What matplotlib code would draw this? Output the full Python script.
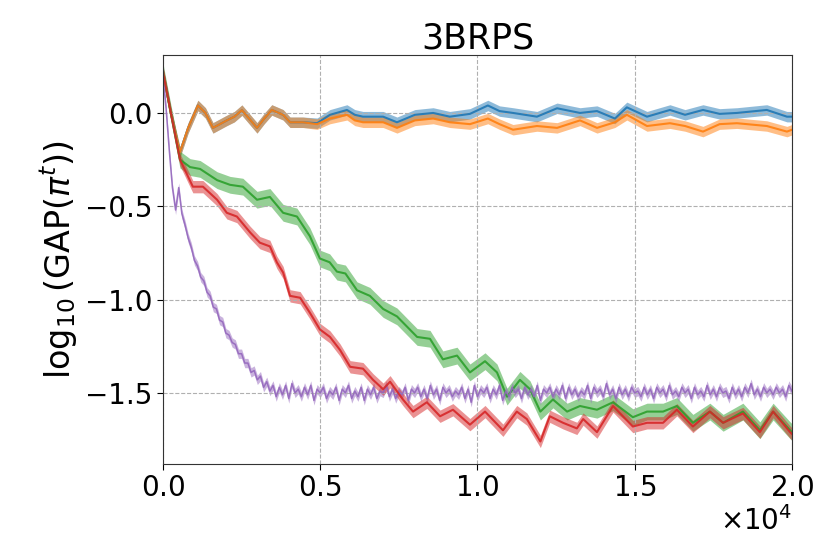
import numpy as np
import matplotlib
matplotlib.use("Agg")
import matplotlib.pyplot as plt
from matplotlib.ticker import ScalarFormatter

# ---------------- data ----------------
blue_x = [0, 250, 540, 800, 1110, 1350, 1590, 2030, 2270, 2510, 2990, 3220, 3460, 3820,
          4040, 4450, 4900, 5310, 5850, 6100, 6360, 7000, 7440, 8010, 8590, 9120, 9760,
          10330, 10700, 11130, 11890, 12530, 13260, 13800, 14370, 14750, 15390, 16120,
          16600, 17170, 17700, 18250, 19200, 19840, 20000]
blue_y = [0.22, 0.0, -0.21, -0.08, 0.04, 0.0, -0.08, -0.04, -0.02, 0.015, -0.08, -0.03,
          0.016, -0.01, -0.05, -0.05, -0.055, -0.01, 0.016, -0.01, -0.02, -0.02, -0.05,
          -0.01, 0.0, -0.02, -0.005, 0.04, 0.01, 0.0, -0.02, 0.025, 0.0, 0.01, -0.03,
          0.03, -0.02, 0.016, -0.01, 0.016, -0.005, 0.0, 0.016, -0.02, -0.02]

orange_x = blue_x
orange_y = [0.22, 0.0, -0.21, -0.08, 0.04, 0.0, -0.08, -0.04, -0.02, 0.015, -0.08, -0.03,
            0.016, -0.01, -0.05, -0.05, -0.06, -0.03, -0.01, -0.04, -0.05, -0.05, -0.08,
            -0.04, -0.03, -0.05, -0.06, -0.03, -0.06, -0.09, -0.07, -0.08, -0.04, -0.08,
            -0.05, -0.01, -0.07, -0.055, -0.07, -0.1, -0.06, -0.055, -0.07, -0.1, -0.09]

green_x = [0, 250, 540, 860, 1180, 1450, 1720, 2130, 2540, 2990, 3400, 3820, 4260, 4670,
           4990, 5300, 5530, 5800, 6170, 6580, 7000, 7440, 8080, 8490, 8900, 9350, 9760,
           10240, 10620, 10940, 11350, 11670, 12000, 12400, 12850, 13260, 13800, 14310,
           14940, 15390, 15900, 16340, 16850, 17390, 17810, 18440, 18980, 19400, 19940, 20000]
green_y = [0.22, 0.0, -0.25, -0.29, -0.30, -0.33, -0.36, -0.385, -0.395, -0.465, -0.45,
           -0.535, -0.555, -0.66, -0.78, -0.80, -0.85, -0.86, -0.95, -0.98, -1.05, -1.09,
           -1.20, -1.21, -1.32, -1.30, -1.39, -1.33, -1.39, -1.52, -1.43, -1.48, -1.60,
           -1.535, -1.60, -1.57, -1.59, -1.55, -1.63, -1.60, -1.60, -1.57, -1.66, -1.60,
           -1.66, -1.60, -1.70, -1.60, -1.70, -1.71]

red_x = [0, 250, 540, 950, 1270, 1720, 2030, 2350, 2770, 3080, 3400, 3620, 3820, 4040,
         4360, 4670, 4990, 5310, 5630, 5950, 6360, 6680, 7000, 7220, 7630, 7950, 8390,
         8810, 9220, 9760, 10240, 10810, 11250, 11570, 12000, 12300, 12720, 13160, 13360,
         13800, 14310, 14940, 15390, 15900, 16340, 16850, 17390, 17810, 18440, 18980,
         19400, 19940, 20000]
red_y = [0.22, 0.0, -0.25, -0.395, -0.395, -0.465, -0.535, -0.555, -0.64, -0.695, -0.715,
         -0.80, -0.855, -0.98, -0.99, -1.07, -1.16, -1.20, -1.27, -1.36, -1.37, -1.43,
         -1.48, -1.44, -1.535, -1.60, -1.55, -1.625, -1.59, -1.67, -1.60, -1.70, -1.60,
         -1.64, -1.76, -1.625, -1.66, -1.69, -1.64, -1.71, -1.57, -1.68, -1.66, -1.66,
         -1.59, -1.68, -1.60, -1.66, -1.61, -1.71, -1.60, -1.71, -1.72]

purple_x = list(range(0, 20001, 100))
purple_y = [0.20, 0.02, -0.20, -0.40, -0.52, -0.40, -0.54, -0.60, -0.67, -0.72,
            -0.79, -0.82, -0.88, -0.90, -0.96, -0.98, -1.04, -1.05, -1.11, -1.12,
            -1.18, -1.19, -1.23, -1.24, -1.29, -1.29, -1.34, -1.34, -1.39, -1.38,
            -1.43, -1.41, -1.47, -1.44,
            -1.49, -1.46, -1.52, -1.47, -1.51, -1.46, -1.53, -1.45, -1.50, -1.48,
            -1.52, -1.47, -1.51, -1.46, -1.54, -1.48, -1.50, -1.47, -1.53, -1.49,
            -1.51, -1.47, -1.54, -1.48, -1.50, -1.46, -1.53, -1.49, -1.52, -1.47,
            -1.54, -1.48, -1.51, -1.47, -1.53, -1.49, -1.50, -1.46, -1.52, -1.48,
            -1.53, -1.49, -1.51, -1.47, -1.54, -1.48, -1.50, -1.47, -1.52, -1.48,
            -1.53, -1.46, -1.51, -1.48, -1.54, -1.47, -1.50, -1.48, -1.52, -1.49,
            -1.51, -1.47, -1.53, -1.48, -1.55, -1.46, -1.52, -1.48, -1.50, -1.47,
            -1.53, -1.48, -1.51, -1.46, -1.54, -1.49, -1.52, -1.47, -1.50, -1.48,
            -1.53, -1.47, -1.51, -1.48, -1.52, -1.46, -1.54, -1.48, -1.50, -1.47,
            -1.52, -1.48, -1.51, -1.46, -1.53, -1.47, -1.51, -1.48, -1.52, -1.49,
            -1.51, -1.46, -1.53, -1.47, -1.50, -1.48, -1.52, -1.45, -1.51, -1.48,
            -1.53, -1.47, -1.51, -1.48, -1.52, -1.47, -1.50, -1.49, -1.52, -1.47,
            -1.51, -1.48, -1.53, -1.47, -1.50, -1.48, -1.52, -1.46, -1.51, -1.49,
            -1.52, -1.47, -1.50, -1.48, -1.53, -1.47, -1.51, -1.49, -1.52, -1.46,
            -1.51, -1.48, -1.52, -1.47, -1.50, -1.49, -1.53, -1.47, -1.51, -1.48,
            -1.52, -1.47, -1.50, -1.45, -1.51, -1.48, -1.52, -1.47, -1.50, -1.48,
            -1.51, -1.47, -1.50, -1.48, -1.52, -1.46, -1.49]

# band half-widths (std shading)
band = {"blue": 0.028, "orange": 0.028, "green": 0.045, "red": 0.033, "purple": 0.025}

title = "3BRPS"
ylabel = r"$\log_{10}(\mathrm{GAP}(\pi^t))$"
xticks = [0, 5000, 10000, 15000, 20000]
yticks = [0.0, -0.5, -1.0, -1.5]

# ---------------- plotting ----------------
fig = plt.figure(figsize=(8.19, 5.40), dpi=100)
ax = fig.add_axes([0.199, 0.141, 0.768, 0.757])

series = [
    ("blue", blue_x, blue_y, "tab:blue", 1.5),
    ("orange", orange_x, orange_y, "tab:orange", 1.5),
    ("green", green_x, green_y, "tab:green", 1.5),
    ("purple", purple_x, purple_y, "tab:purple", 1.1),
    ("red", red_x, red_y, "tab:red", 1.5),
]
for name, xs, ys, c, lw in series:
    xs = np.asarray(xs, float)
    ys = np.asarray(ys, float)
    w = band[name]
    ax.fill_between(xs, ys - w, ys + w, color=c, alpha=0.5, linewidth=0)
    ax.plot(xs, ys, color=c, linewidth=lw, alpha=0.9)

ax.set_xlim(0, 20000)
ax.set_ylim(-1.88, 0.31)
ax.set_xticks(xticks)
ax.set_yticks(yticks)
fmt = ScalarFormatter(useMathText=True)
fmt.set_powerlimits((0, 0))
ax.xaxis.set_major_formatter(fmt)
ax.tick_params(labelsize=20, length=4)
ax.xaxis.get_offset_text().set_fontsize(20)
ax.grid(True, linestyle="--", color="#b0b0b0", linewidth=0.8)
ax.set_title(title, fontsize=25, pad=5)
ax.set_ylabel(ylabel, fontsize=24)
for s in ax.spines.values():
    s.set_color("#333333")

fig.savefig("out.png", dpi=100)
